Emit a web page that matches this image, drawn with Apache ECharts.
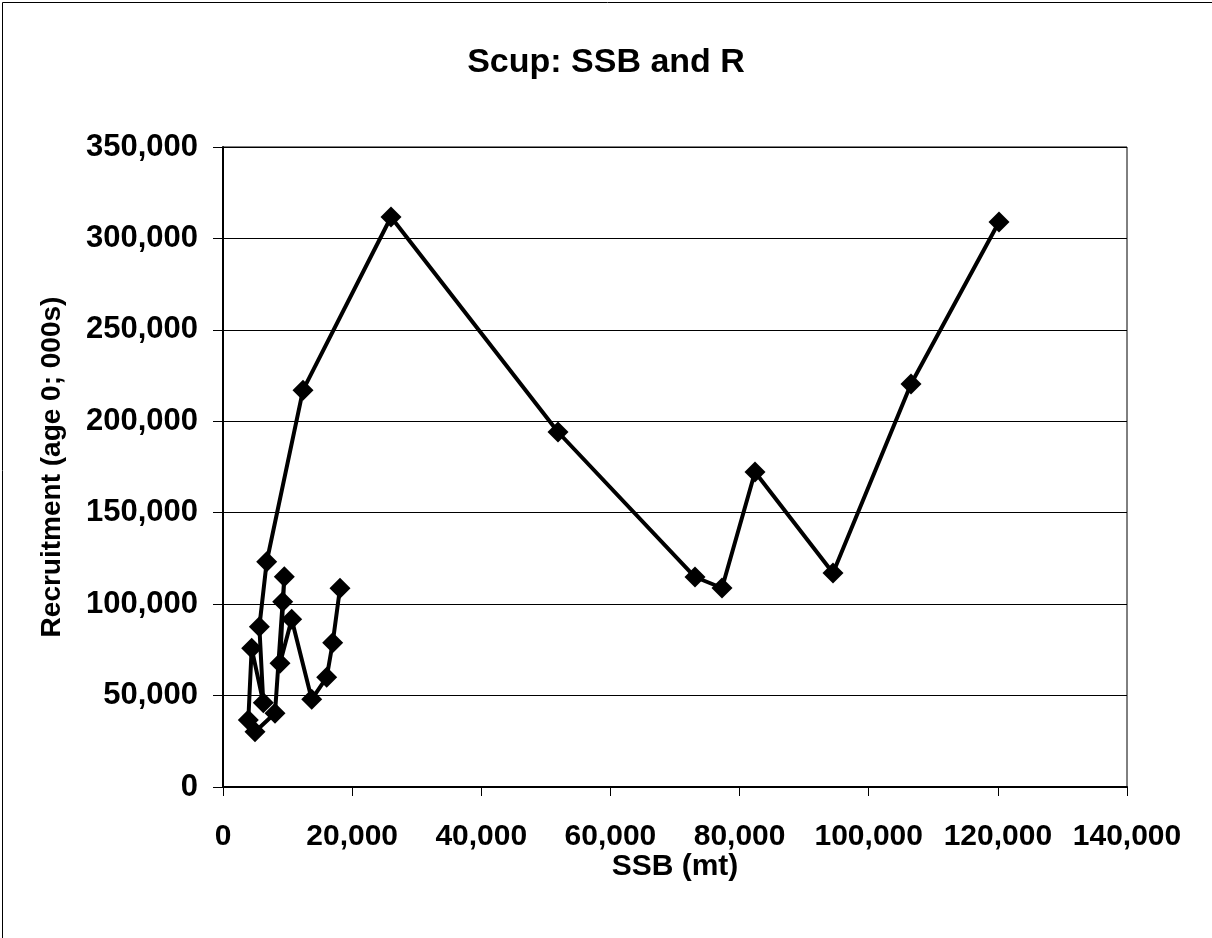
<!DOCTYPE html>
<html>
<head>
<meta charset="utf-8">
<script src="https://cdn.jsdelivr.net/npm/echarts@6/dist/echarts.min.js"></script>
<style>
html,body{margin:0;padding:0;background:#fff;}
#chart{width:1212px;height:938px;}
</style>
</head>
<body>
<div id="chart"></div>
<script>
const chartTitle = "Scup: SSB and R";
const xAxisTitle = "SSB (mt)";
const yAxisTitle = "Recruitment (age 0; 000s)";
const ssb = [18120, 16990, 16060, 13740, 10640, 8830, 9500, 9240, 8050, 4960, 3920, 4440, 6240, 5630, 6770, 12390, 26020, 51880, 73100, 77280, 82390, 94470, 106550, 120180];
const recruitment = [108660, 78900, 59990, 47960, 91700, 67650, 115000, 101340, 40300, 30240, 36640, 75850, 46100, 87660, 123200, 217000, 311720, 194140, 114840, 108830, 172270, 117030, 220390, 309000];
const xTicks = [0, 20000, 40000, 60000, 80000, 100000, 120000, 140000];
const yTicks = [0, 50000, 100000, 150000, 200000, 250000, 300000, 350000];

const fmt = v => v.toLocaleString('en-US');
const font = 'Liberation Sans, Arial, sans-serif';
const chart = echarts.init(document.getElementById('chart'), null, {renderer: 'canvas'});
chart.setOption({
  animation: false,
  backgroundColor: '#fff',
  graphic: [{
    type: 'rect', left: 0, top: 0, silent: true,
    shape: {x: 0.5, y: 0.5, width: 1210, height: 936},
    style: {fill: 'none', stroke: '#000', lineWidth: 1}
  }],
  title: {
    text: chartTitle, left: 'center', top: 41,
    textStyle: {fontFamily: font, fontSize: 34, fontWeight: 'bold', color: '#000'}
  },
  grid: {left: 223, right: 85, top: 147, bottom: 151, show: true, borderColor: '#000', borderWidth: 1, backgroundColor: 'transparent'},
  xAxis: {
    type: 'value', min: xTicks[0], max: xTicks[xTicks.length - 1], interval: xTicks[1] - xTicks[0],
    name: xAxisTitle, nameLocation: 'middle', nameGap: 65, nameMoveOverlap: false,
    nameTextStyle: {fontFamily: font, fontSize: 30, fontWeight: 'bold', color: '#000'},
    axisLine: {lineStyle: {color: '#000', width: 2}},
    axisTick: {show: true, length: 9, lineStyle: {color: '#000', width: 1}},
    axisLabel: {formatter: fmt, margin: 35, fontFamily: font, fontSize: 30, fontWeight: 'bold', color: '#000'},
    splitLine: {show: false}
  },
  yAxis: {
    type: 'value', min: yTicks[0], max: yTicks[yTicks.length - 1], interval: yTicks[1] - yTicks[0],
    name: yAxisTitle, nameLocation: 'middle', nameGap: 157, nameRotate: 90, nameMoveOverlap: false,
    nameTextStyle: {fontFamily: font, fontSize: 28, fontWeight: 'bold', color: '#000'},
    axisLine: {show: true, lineStyle: {color: '#000', width: 2}},
    axisTick: {show: true, length: 10, lineStyle: {color: '#000', width: 1}},
    axisLabel: {formatter: fmt, margin: 25, fontFamily: font, fontSize: 31, fontWeight: 'bold', color: '#000'},
    splitLine: {show: true, lineStyle: {color: '#000', width: 1}}
  },
  series: [{
    type: 'line',
    data: ssb.map((x, i) => [x, recruitment[i]]),
    symbol: 'diamond', symbolSize: 21,
    itemStyle: {color: '#000'},
    lineStyle: {color: '#000', width: 4},
    showSymbol: true
  }]
});
</script>
</body>
</html>
